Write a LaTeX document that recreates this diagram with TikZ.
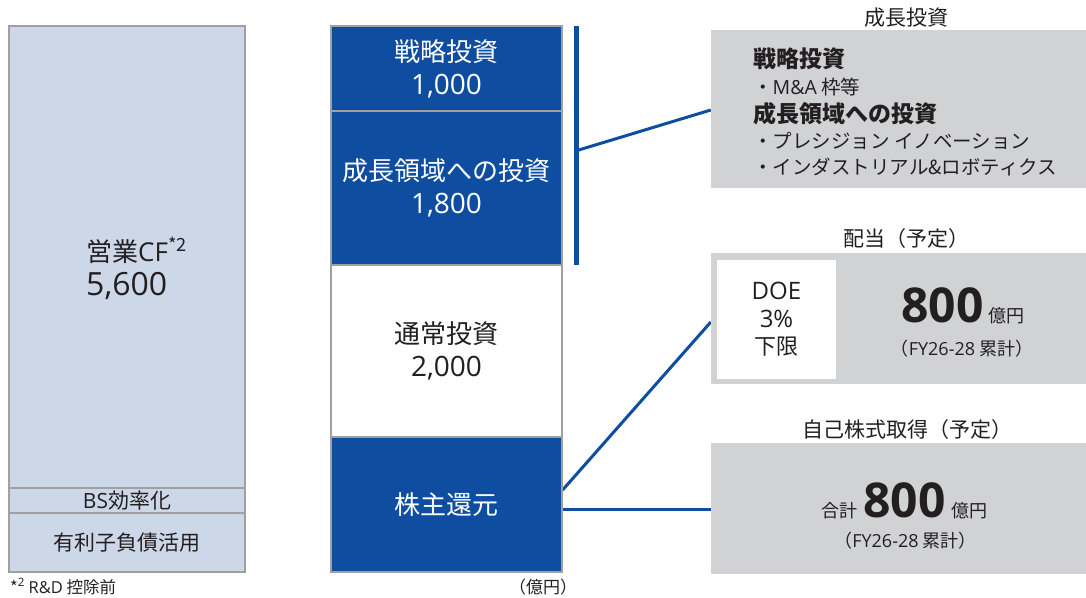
\documentclass[tikz,border=0pt]{standalone}
\usepackage{fontspec}
\setmainfont{Noto Sans CJK JP}
\newfontfamily\lat{Open Sans}
\usepackage{tikz}
\pgfdeclarelayer{bg}
\pgfsetlayers{bg,main}
\definecolor{navy}{RGB}{14,77,160}
\definecolor{cfblue}{RGB}{204,216,232}
\definecolor{edgegray}{RGB}{160,160,160}
\definecolor{panelgray}{RGB}{209,210,212}
\definecolor{ink}{RGB}{35,31,32}
\newcommand{\fs}[1]{\fontsize{#1}{#1}\selectfont}

\begin{document}
\begin{tikzpicture}[x=1pt,y=-1pt,
        every node/.style={inner sep=0pt, text=ink},
        cfbox/.style={draw=edgegray, line width=1.2pt, fill=cfblue, minimum width=236pt, align=center},
        navybox/.style={draw=edgegray, line width=1.2pt, fill=navy, text=white, minimum width=231pt, align=center, font=\fontsize{26}{33}\selectfont},
        whitebox/.style={draw=edgegray, line width=1.2pt, fill=white, minimum width=231pt, align=center, font=\fontsize{26}{33}\selectfont},
        panel/.style={fill=panelgray, minimum width=375pt},
        title/.style={font=\fs{21}},
        head/.style={anchor=west, font=\fs{23}\bfseries},
        item/.style={anchor=west, font=\fs{19.5}},
        link/.style={draw=navy, line width=3pt}]
        \useasboundingbox (0,0) rectangle (1086,597);
        % cash in
        \node (cf) [cfbox, minimum height=462pt] at (127,257) {};
        \node (cftext) [anchor=base west, align=left, font=\fs{26}] at (86,295) {営業{\lat CF}\textsuperscript{*2}\\[8pt]{\fs{32}\lat 5,600}};
        \node (bs) [cfbox, minimum height=25pt, font=\fs{21}] at (127,500.5) {{\lat BS}効率化};
        \node (debt) [cfbox, minimum height=59pt, font=\fs{21}] at (127,542.5) {有利子負債活用};
        % cash out
        \node (strat) [navybox, minimum height=85pt] at (446.5,68.5) {戦略投資\\{\fs{28}\lat 1,000}};
        \node (growth) [navybox, minimum height=154pt] at (446.5,188) {成長領域への投資\\{\fs{28}\lat 1,800}};
        \node (normal) [whitebox, minimum height=172pt] at (446.5,351) {通常投資\\{\fs{28}\lat 2,000}};
        \node (payout) [navybox, minimum height=135pt] at (446.5,504.5) {株主還元};
        \node (bar) [fill=navy, minimum width=5pt, minimum height=239pt] at (576,145.5) {};
        % growth panel
        \node (growtitle) [title] at (906,18) {成長投資};
        \node (grow) [panel, minimum height=158pt] at (898.5,109) {};
        \node (g1) [head] at (753,59) {戦略投資};
        \node (g2) [item] at (753,87) {・{\lat M\&A} 枠等};
        \node (g3) [head] at (753,114) {成長領域への投資};
        \node (g4) [item] at (753,141) {・プレシジョン イノベーション};
        \node (g5) [item] at (753,167) {・インダストリアル\&ロボティクス};
        % dividend panel
        \node (divtitle) [title] at (906,239) {配当（予定）};
        \node (divp) [panel, minimum height=131pt] at (898.5,318.5) {};
        \node (doe) [fill=white, minimum width=119pt, minimum height=119pt, align=center, font=\fontsize{22}{27.5}\selectfont] at (776.5,319.5) {{\fs{24}\lat DOE}\\{\fs{24}\lat 3\%}\\下限};
        \node (divamt) [anchor=base] at (963,322) {{\fs{48}\lat\bfseries 800}\hspace{5pt}{\fs{18}億円}};
        \node (divnote) [anchor=base, font=\fs{18}] at (962,355) {（{\lat FY26-28} 累計）};
        % buyback panel
        \node (buytitle) [title] at (907,430) {自己株式取得（予定）};
        \node (buy) [panel, minimum height=131pt] at (898.5,508.5) {};
        \node (buyamt) [anchor=base] at (904.5,517) {{\fs{18}合計}\hspace{6pt}{\fs{48}\lat\bfseries 800}\hspace{6pt}{\fs{18}億円}};
        \node (buynote) [anchor=base, font=\fs{18}] at (905.5,547) {（{\lat FY26-28} 累計）};
        % notes
        \node (fn) [anchor=base west, font=\fs{16.5}] at (10,593) {*\textsuperscript{\lat 2} {\lat R\&D} 控除前};
        \node (unit) [anchor=base, font=\fs{17}] at (543,593) {（億円）};
        \begin{pgfonlayer}{bg}
                \draw [link] ([yshift=-4.5pt]bar.east) -- ([yshift=-1pt]grow.west);
                \draw [link] ([yshift=14.5pt]payout.east) -- ([yshift=-3.5pt]divp.west);
                \draw [link] ([yshift=-4.5pt]payout.east) -- ([yshift=-4.5pt]payout.east -| buy.west);
        \end{pgfonlayer}
\end{tikzpicture}
\end{document}
